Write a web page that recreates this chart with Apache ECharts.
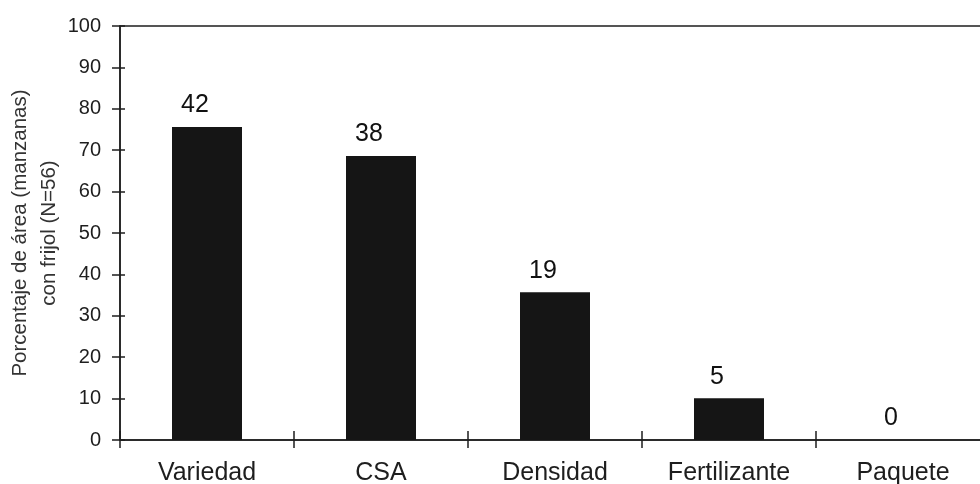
<!DOCTYPE html>
<html>
<head>
<meta charset="utf-8">
<script src="https://cdn.jsdelivr.net/npm/echarts@6/dist/echarts.min.js"></script>
<style>html,body{margin:0;padding:0;background:#fff}#c{width:980px;height:484px}</style>
</head>
<body>
<div id="c"></div>
<script>
const categories = ['Variedad', 'CSA', 'Densidad', 'Fertilizante', 'Paquete'];
const percentValues = [75.6, 68.6, 35.7, 10.1, 0];
const countLabels = [42, 38, 19, 5, 0];
const yTicks = [0, 10, 20, 30, 40, 50, 60, 70, 80, 90, 100];

const FONT = 'Liberation Sans, Arial, sans-serif';
const INK = '#1e1e1e';
const chart = echarts.init(document.getElementById('c'), null, {renderer: 'canvas'});
chart.setOption({
  animation: false,
  backgroundColor: '#ffffff',
  grid: {left: 120, top: 26, width: 870, height: 414, show: true, borderColor: INK, borderWidth: 1.5, backgroundColor: 'transparent', outerBoundsMode: 'none', containLabel: false},
  xAxis: [
    {type: 'category', data: categories, position: 'bottom',
     axisLine: {lineStyle: {color: INK, width: 1.5}},
     axisTick: {show: true, inside: false, length: 8, lineStyle: {color: INK, width: 1.5}},
     axisLabel: {color: INK, fontSize: 25, fontFamily: FONT, margin: 21}},
    {type: 'category', data: categories, position: 'bottom', gridIndex: 0,
     axisLine: {show: false},
     axisTick: {show: true, inside: true, length: 9, lineStyle: {color: INK, width: 1.5}},
     axisLabel: {show: false}}
  ],
  yAxis: [
    {type: 'value', min: yTicks[0], max: yTicks[yTicks.length - 1], interval: 10, position: 'left',
     name: 'Porcentaje de área (manzanas)\ncon frijol (N=56)',
     nameLocation: 'middle', nameRotate: 90, nameGap: 56, nameMoveOverlap: false,
     nameTextStyle: {color: '#333', fontSize: 20.5, fontFamily: FONT, lineHeight: 29},
     axisLine: {show: true, lineStyle: {color: INK, width: 1.5}},
     axisTick: {show: true, inside: false, length: 8, lineStyle: {color: INK, width: 1.5}},
     axisLabel: {color: INK, fontSize: 20, fontFamily: FONT, margin: 19},
     splitLine: {show: false}},
    {type: 'value', min: yTicks[0], max: yTicks[yTicks.length - 1], interval: 10, position: 'left', offset: 0,
     axisLine: {show: false},
     axisTick: {show: true, inside: true, length: 5, lineStyle: {color: INK, width: 1.5}},
     axisLabel: {show: false}, splitLine: {show: false}}
  ],
  series: [{
    type: 'bar', xAxisIndex: 0, yAxisIndex: 0,
    data: percentValues, barWidth: 70,
    itemStyle: {color: '#151515'},
    label: {show: true, position: 'top', distance: 9, offset: [-12, 0], color: '#111', fontSize: 25, fontFamily: FONT,
            formatter: p => String(countLabels[p.dataIndex])}
  }]
});
</script>
</body>
</html>
